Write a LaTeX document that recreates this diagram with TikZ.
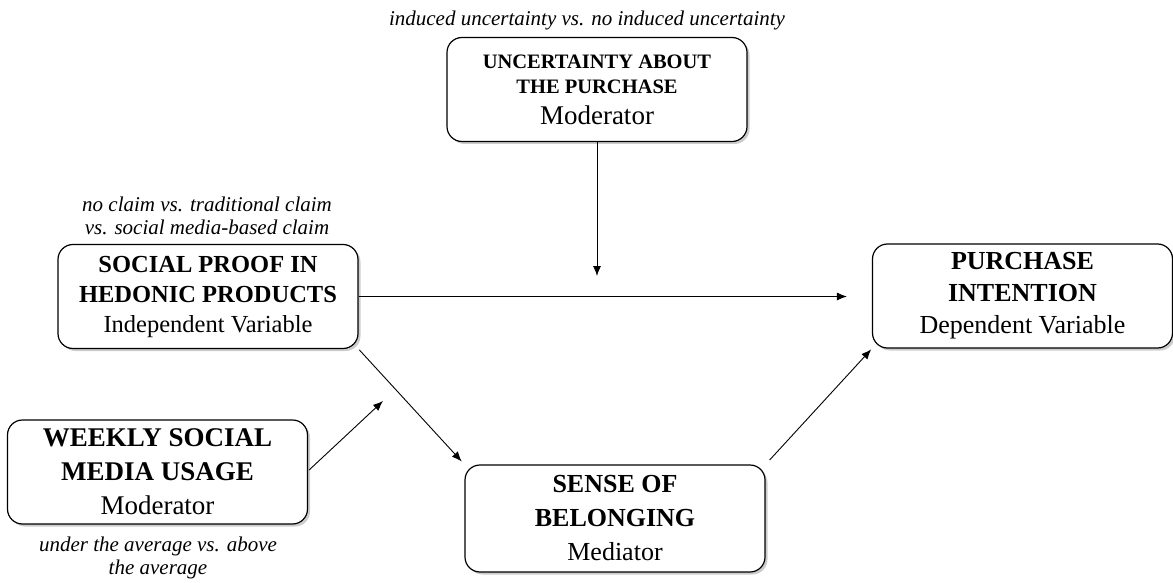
\documentclass[tikz,border=0pt]{standalone}
\usepackage{fontspec}
\setmainfont{Liberation Serif}
\usetikzlibrary{arrows.meta,shadows}
\begin{document}
\begin{tikzpicture}[x=1pt,y=-1pt,
  box/.style={draw, line width=1.2pt, rounded corners=15pt, fill=white,
    align=center, inner sep=0pt, minimum width=300pt, minimum height=104pt,
    drop shadow={shadow xshift=2.5pt, shadow yshift=-2.5pt, fill=black!40}},
  note/.style={align=center, inner sep=0pt, font=\fontsize{21}{23.5}\selectfont\itshape},
  big/.style={font=\fontsize{26}{32}\selectfont},
  conn/.style={line width=0.9pt, -{Latex[length=10pt,width=8pt]}}]
\useasboundingbox (0,0) rectangle (1173,583);

\node[box, font=\fontsize{20.5}{25.5}\selectfont] (mod1) at (597,89.5)
  {\textbf{UNCERTAINTY ABOUT}\\
   \textbf{THE PURCHASE}\\[5pt]
   {\fontsize{27}{30}\selectfont Moderator}};
\node[note] (n1) at (587,20) {induced uncertainty vs. no induced uncertainty};

\node[box, font=\fontsize{24.5}{30}\selectfont] (iv) at (208,296.5)
  {\textbf{SOCIAL PROOF IN}\\ \textbf{HEDONIC PRODUCTS}\\ Independent Variable};
\node[note] (n2) at (207,216) {no claim vs. traditional claim\\vs. social media-based claim};

\node[box, big] (dv) at (1022.5,296)
  {\textbf{PURCHASE}\\ \textbf{INTENTION}\\ Dependent Variable};

\node[box, font=\fontsize{27}{34}\selectfont] (mod2) at (157.5,472)
  {\textbf{WEEKLY SOCIAL}\\ \textbf{MEDIA USAGE}\\ Moderator};
\node[note] (n3) at (158,558) {under the average vs. above\\the average};

\node[box, font=\fontsize{26}{34}\selectfont, minimum height=107pt] (med) at (615,518.5)
  {\textbf{SENSE OF}\\ \textbf{BELONGING}\\ Mediator};

\coordinate (c1) at (597,276);
\coordinate (c2) at (383,401);

\draw[conn] (mod1.south) -- (c1);
\draw[conn, shorten >=25pt] (iv.east) -- (iv.east -| dv.west);
\draw[conn, shorten <=1pt, shorten >=4pt] (iv.south east) -- (med.north west);
\draw[conn] (mod2.east) ++(1,-2) coordinate (c3) (c3) -- (c2);
\draw[conn, shorten <=6pt, shorten >=1pt] (med.north east) -- (dv.south west);
\end{tikzpicture}
\end{document}
